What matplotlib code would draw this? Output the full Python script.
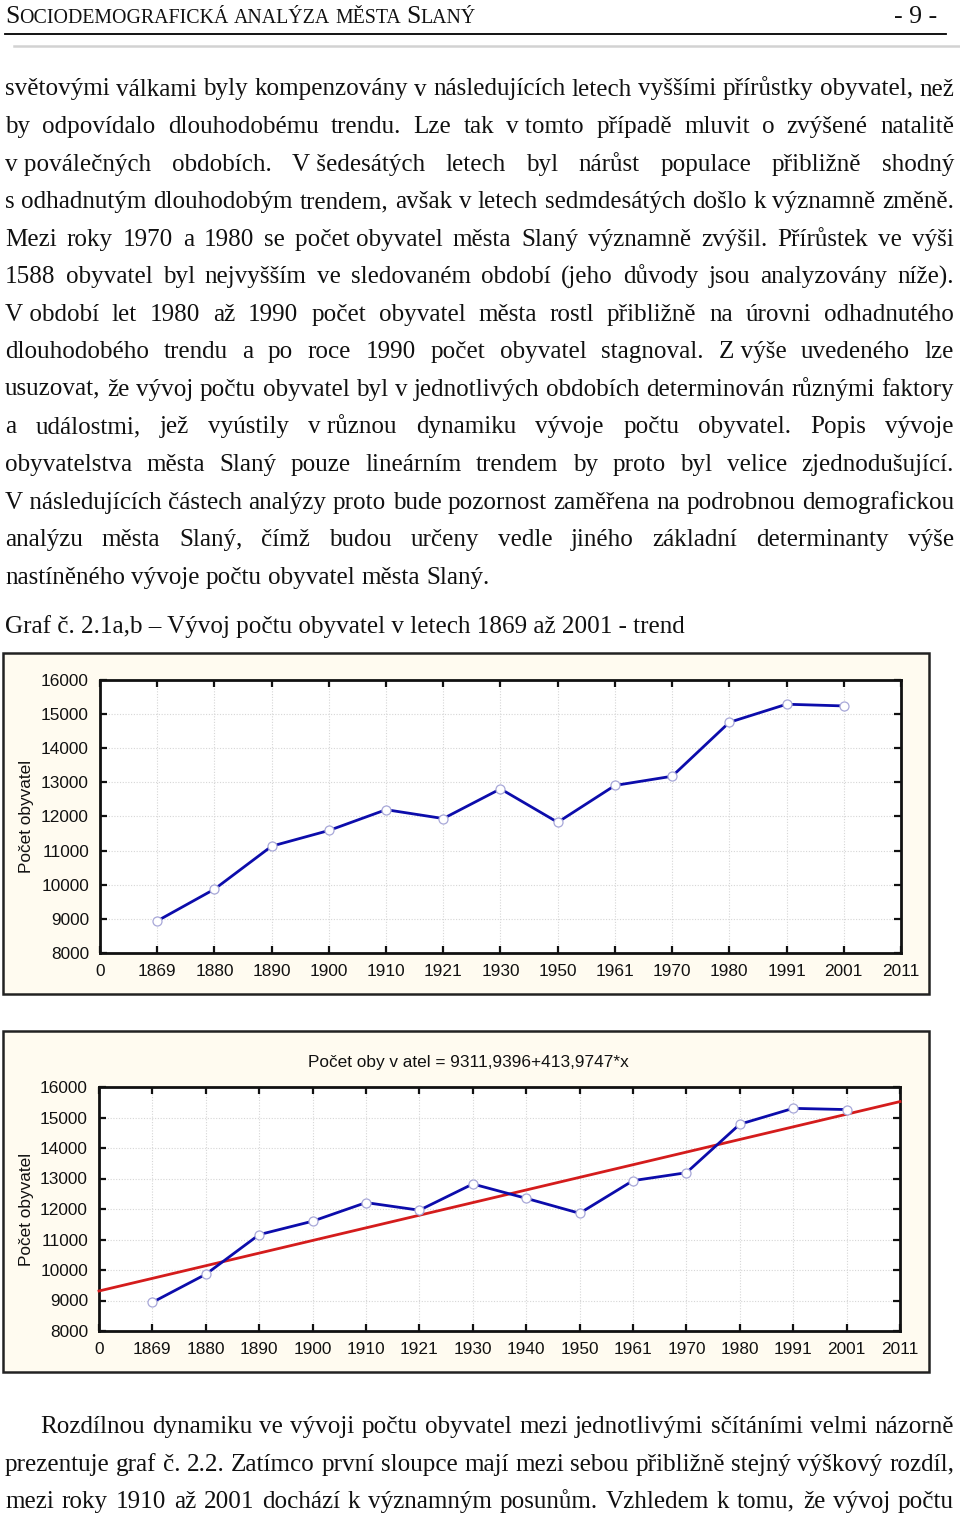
import matplotlib
matplotlib.use("Agg")
import matplotlib.pyplot as plt
from matplotlib.patches import Rectangle
from matplotlib.lines import Line2D
import numpy as np

W, H = 960, 1516
SERIF = ['Liberation Serif', 'DejaVu Serif']
SANS = ['Liberation Sans', 'DejaVu Sans']

# ---------------- data ----------------
years_a = ['1869', '1880', '1890', '1900', '1910', '1921', '1930', '1950', '1961', '1970', '1980', '1991', '2001']
pop_a = [8940, 9870, 11130, 11590, 12200, 11940, 12810, 11830, 12910, 13180, 14760, 15290, 15240]
xlabels_a = ['0'] + years_a + ['2011']

years_b = ['1869', '1880', '1890', '1900', '1910', '1921', '1930', '1940', '1950', '1961', '1970', '1980', '1991', '2001']
pop_b = [8940, 9860, 11160, 11600, 12210, 11960, 12820, 12350, 11860, 12930, 13190, 14780, 15300, 15260]
xlabels_b = ['0'] + years_b + ['2011']

trend_intercept = 9311.9396
trend_slope = 413.9747

yticks = [8000, 9000, 10000, 11000, 12000, 13000, 14000, 15000, 16000]

para1 = [
    "světovými válkami byly kompenzovány v následujících letech vyššími přírůstky obyvatel, než",
    "by odpovídalo dlouhodobému trendu. Lze tak v\u00a0tomto případě mluvit o zvýšené natalitě",
    "v\u00a0poválečných obdobích. V\u00a0šedesátých letech byl nárůst populace přibližně shodný",
    "s odhadnutým dlouhodobým trendem, avšak v letech sedmdesátých došlo k významně změně.",
    "Mezi roky 1970 a 1980 se počet\u00a0obyvatel města Slaný významně zvýšil. Přírůstek ve výši",
    "1588 obyvatel byl nejvyšším ve sledovaném období (jeho důvody jsou analyzovány níže).",
    "V\u00a0období let 1980 až 1990 počet obyvatel města rostl přibližně na úrovni odhadnutého",
    "dlouhodobého trendu a po roce 1990 počet obyvatel stagnoval. Z\u00a0výše uvedeného lze",
    "usuzovat, že vývoj počtu obyvatel byl v jednotlivých obdobích determinován různými faktory",
    "a událostmi, jež vyústily v\u00a0různou dynamiku vývoje počtu obyvatel. Popis vývoje",
    "obyvatelstva města Slaný pouze lineárním trendem by proto byl velice zjednodušující.",
    "V\u00a0následujících částech analýzy proto bude pozornost zaměřena na podrobnou demografickou",
    "analýzu města Slaný, čímž budou určeny vedle jiného základní determinanty výše",
    "nastíněného vývoje počtu obyvatel města Slaný.",
]
caption = "Graf č. 2.1a,b – Vývoj počtu obyvatel v letech 1869 až 2001 - trend"
para2 = [
    "Rozdílnou dynamiku ve vývoji počtu obyvatel mezi jednotlivými sčítáními velmi názorně",
    "prezentuje graf č. 2.2. Zatímco první sloupce mají mezi sebou přibližně stejný výškový rozdíl,",
    "mezi roky 1910 až 2001 dochází k významným posunům. Vzhledem k tomu, že vývoj počtu",
]

# ---------------- figure ----------------
fig = plt.figure(figsize=(W / 100, H / 100), dpi=100)
fig.patch.set_facecolor('white')
renderer = fig.canvas.get_renderer()

def fx(x):
    return x / W

def fy(y):
    return 1 - y / H

BODY_FS = 18.1

def text_width(s, fs, family):
    t = fig.text(0, 0, s, fontsize=fs, family=family)
    w = t.get_window_extent(renderer=renderer).width
    t.remove()
    return w

def space_width(fs, family):
    return text_width('a b', fs, family) - text_width('ab', fs, family)

def justify(line, y, left, right, fs=BODY_FS, family=SERIF, just=True):
    words = line.split(' ')
    widths = [text_width(wd, fs, family) for wd in words]
    if just and len(words) > 1:
        gap = (right - left - sum(widths)) / (len(words) - 1)
    else:
        gap = space_width(fs, family)
    x = left
    for wd, w in zip(words, widths):
        fig.text(fx(x), fy(y), wd, fontsize=fs, family=family, va='baseline', ha='left', color='#111111')
        x += w + gap

# header (small caps imitation)
BIG, SMALL = 18.5, 14.3
runs = [("S", BIG, 0), ("OCIODEMOGRAFICKÁ", SMALL, 1), ("ANALÝZA", SMALL, 1), ("MĚSTA", SMALL, 1),
        ("S", BIG, 0), ("LANÝ", SMALL, 0)]
hx = 5
for s, fs, sp in runs:
    fig.text(fx(hx), fy(23), s, fontsize=fs, family=SERIF, va='baseline', ha='left', color='#111111')
    hx += text_width(s, fs, SERIF) + (space_width(SMALL, SERIF) if sp else 0)
fig.text(fx(937), fy(23), "- 9 -", fontsize=BIG, family=SERIF, va='baseline', ha='right', color='#111111')
fig.add_artist(Line2D([fx(5), fx(946)], [fy(34), fy(34)], color='black', lw=1.3, transform=fig.transFigure))
fig.add_artist(Line2D([fx(14), fx(960)], [fy(46), fy(46)], color='#d2d2d2', lw=1.8, transform=fig.transFigure))

# body paragraph 1
LEFT, RIGHT = 5, 954
base0 = 95.5
step = 37.55
for i, line in enumerate(para1):
    justify(line, base0 + step * i, LEFT, RIGHT, just=(i < len(para1) - 1))

fig.text(fx(5), fy(633), caption, fontsize=BODY_FS, family=SERIF, va='baseline', ha='left', color='#111111')

for i, line in enumerate(para2):
    justify(line, 1433 + step * i, 40 if i == 0 else LEFT, RIGHT)

# ---------------- charts ----------------
CREAM = '#fffbf0'

def chart(frame, axbox, xlabels, values, trend=False):
    fl, ft, fr, fb = frame
    fig.add_artist(Rectangle((fx(fl), fy(fb)), fx(fr - fl), (fb - ft) / H,
                             transform=fig.transFigure, facecolor=CREAM,
                             edgecolor='#222222', lw=1.8, zorder=0))
    l, t, r, b = axbox
    ax = fig.add_axes([fx(l), fy(b), fx(r - l), (b - t) / H])
    ax.set_facecolor('white')
    n = len(xlabels) - 1
    x = np.arange(1, len(values) + 1)
    ax.set_xlim(0, n)
    ax.set_ylim(8000, 16000)
    ax.set_xticks(np.arange(0, n + 1))
    ax.set_xticklabels(xlabels)
    ax.set_yticks(yticks)
    ax.set_yticklabels([str(v) for v in yticks])
    ax.grid(True, color='#d6d6d6', linestyle=(0, (1, 1.5)), lw=0.8)
    ax.set_axisbelow(True)
    for sp in ax.spines.values():
        sp.set_linewidth(2)
        sp.set_color('#111111')
    ax.tick_params(direction='in', length=5, width=1.6, top=True, right=True,
                   labelsize=12.4, pad=8, colors='#111111')
    for lab in ax.get_xticklabels() + ax.get_yticklabels():
        lab.set_family(SANS)
    if trend:
        xt = np.array([0, n])
        ax.plot(xt, trend_intercept + trend_slope * xt, color='#d41c1c', lw=2, zorder=3, clip_on=False)
    ax.plot(x, values, color='#0c0cab', lw=2, marker='o', markersize=6.5,
            markerfacecolor='white', markeredgecolor='#a8a8d8', markeredgewidth=0.9, zorder=4)
    ax.set_ylabel("Počet obyvatel", fontsize=12.4, family=SANS, color='#111111')
    ax.yaxis.set_label_coords((26 - l) / (r - l), 0.5)
    ax.yaxis.label.set_verticalalignment('center')
    return ax

chart((3, 653, 929, 994), (100, 680, 901, 953), xlabels_a, pop_a)
ax2 = chart((3, 1031, 929, 1372), (99, 1087, 900, 1331), xlabels_b, pop_b, trend=True)

eq = "Počet oby v atel = {:.4f}+{:.4f}*x".format(trend_intercept, trend_slope).replace('.', ',')
fig.text(fx(308), fy(1062), eq, fontsize=12.4, family=SANS, va='center', ha='left', color='#111111')

fig.savefig('out.png', dpi=100, facecolor='white')
